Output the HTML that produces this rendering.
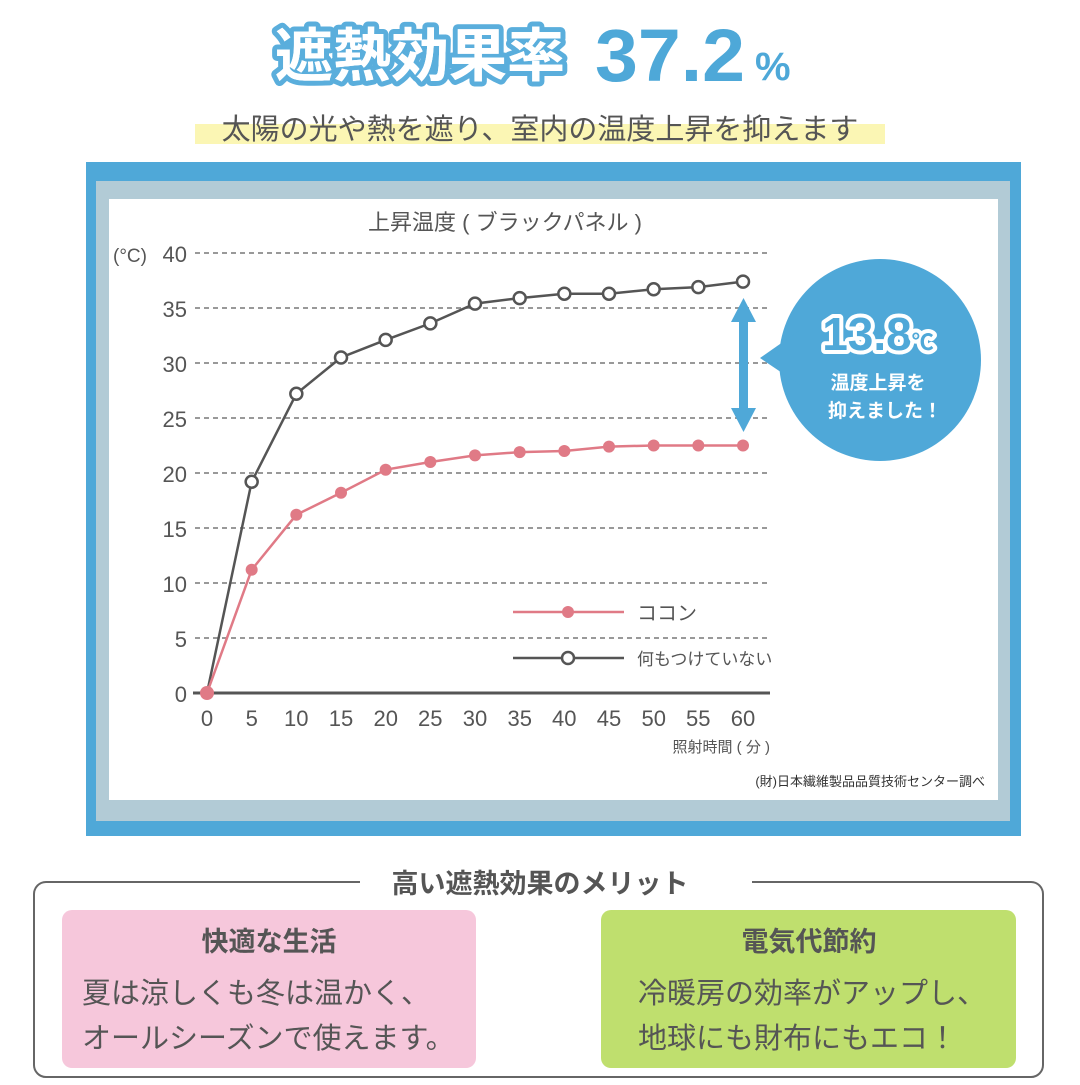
<!DOCTYPE html>
<html><head><meta charset="utf-8">
<style>
html,body{margin:0;padding:0;background:#fff;}
svg text{font-family:"Liberation Sans","Noto Sans CJK JP",sans-serif;}
</style></head>
<body>
<svg id="s" width="1080" height="1080" viewBox="0 0 1080 1080" xmlns="http://www.w3.org/2000/svg">
<rect width="1080" height="1080" fill="#fff"/>
<text x="420" y="76" text-anchor="middle" font-size="58" font-weight="bold" fill="#fff" stroke="#5aaedc" stroke-width="10" stroke-linejoin="round" paint-order="stroke" style="font-family:'Noto Sans CJK JP',sans-serif">遮熱効果率</text>
<text x="420" y="76" text-anchor="middle" font-size="58" font-weight="bold" fill="#fff" style="font-family:'Noto Sans CJK JP',sans-serif">遮熱効果率</text>
<text x="595" y="81" font-size="74" font-weight="bold" fill="#4ea8d8" textLength="150" lengthAdjust="spacingAndGlyphs">37.2</text>
<text x="755" y="80" font-size="40" font-weight="bold" fill="#4ea8d8">%</text>
<rect x="195" y="124" width="690" height="20" fill="#fbf6b4"/>
<text x="540" y="139" text-anchor="middle" font-size="29" fill="#555">太陽の光や熱を遮り、室内の温度上昇を抑えます</text>
<rect x="86" y="162" width="935" height="674" fill="#4fa8d8"/>
<rect x="96" y="181" width="914" height="640" fill="#b2cbd6"/>
<rect x="109" y="199" width="889" height="601" fill="#fff"/>
<text x="505" y="230" text-anchor="middle" font-size="22" fill="#555">上昇温度 ( ブラックパネル )</text>
<g id="grid"></g>
<line x1="193" y1="693" x2="770" y2="693" stroke="#555" stroke-width="3"/>
<g font-size="22" fill="#555" text-anchor="end">
<text x="187" y="262">40</text><text x="187" y="317">35</text><text x="187" y="372">30</text><text x="187" y="427">25</text><text x="187" y="482">20</text><text x="187" y="537">15</text><text x="187" y="592">10</text><text x="187" y="647">5</text><text x="187" y="702">0</text>
</g>
<text x="113" y="262" font-size="19" fill="#555">(°C)</text>
<g font-size="22" fill="#555" text-anchor="middle">
<text x="207" y="726">0</text><text x="251.7" y="726">5</text><text x="296.3" y="726">10</text><text x="341" y="726">15</text><text x="385.7" y="726">20</text><text x="430.3" y="726">25</text><text x="475" y="726">30</text><text x="519.7" y="726">35</text><text x="564.3" y="726">40</text><text x="609" y="726">45</text><text x="653.7" y="726">50</text><text x="698.3" y="726">55</text><text x="743" y="726">60</text>
</g>
<text x="770" y="752" text-anchor="end" font-size="15" fill="#555">照射時間 ( 分 )</text>
<text x="985" y="786" text-anchor="end" font-size="13" fill="#333">(財)日本繊維製品品質技術センター調べ</text>
<g id="series"></g>
<line x1="513" y1="612" x2="624" y2="612" stroke="#e07a86" stroke-width="2.5"/>
<circle cx="568" cy="612" r="6" fill="#e07a86"/>
<text x="637" y="620" font-size="20" fill="#555">ココン</text>
<line x1="513" y1="658" x2="624" y2="658" stroke="#555" stroke-width="2.5"/>
<circle cx="568" cy="658" r="6" fill="#fff" stroke="#555" stroke-width="2.5"/>
<text x="637" y="665" font-size="17" fill="#555">何もつけていない</text>
<rect x="739" y="316" width="9" height="98" fill="#4fa8d8"/>
<polygon points="743.5,298 731,322 756,322" fill="#4fa8d8"/>
<polygon points="743.5,432 731,408 756,408" fill="#4fa8d8"/>
<circle cx="880" cy="360" r="101" fill="#4fa8d8"/>
<polygon points="760,358 800,330 800,385" fill="#4fa8d8"/>
<text x="878" y="350" text-anchor="middle" font-size="46" font-weight="bold" fill="#4fa8d8" stroke="#fff" stroke-width="8" stroke-linejoin="round" paint-order="stroke">13.8<tspan font-size="22">℃</tspan></text>
<text x="878" y="389" text-anchor="middle" font-size="19" font-weight="bold" fill="#fff">温度上昇を</text>
<text x="885" y="417" text-anchor="middle" font-size="19" font-weight="bold" fill="#fff">抑えました！</text>
<rect x="34" y="882" width="1009" height="195" rx="12" fill="none" stroke="#666" stroke-width="2"/>
<rect x="360" y="870" width="392" height="24" fill="#fff"/>
<text x="540" y="893" text-anchor="middle" font-size="27" font-weight="bold" fill="#555">高い遮熱効果のメリット</text>
<rect x="62" y="910" width="414" height="158" rx="10" fill="#f6c7db"/>
<rect x="601" y="910" width="415" height="158" rx="10" fill="#bfdf6e"/>
<text x="269" y="951" text-anchor="middle" font-size="27" font-weight="bold" fill="#555">快適な生活</text>
<text x="809" y="951" text-anchor="middle" font-size="27" font-weight="bold" fill="#555">電気代節約</text>
<text x="82" y="1003" font-size="29" fill="#555">夏は涼しくも冬は温かく、</text>
<text x="82" y="1048" font-size="29" fill="#555">オールシーズンで使えます。</text>
<text x="638" y="1003" font-size="29" fill="#555">冷暖房の効率がアップし、</text>
<text x="638" y="1048" font-size="29" fill="#555">地球にも財布にもエコ！</text>
</svg>
<script>
var NS="http://www.w3.org/2000/svg";
function el(t,a,p){var e=document.createElementNS(NS,t);for(var k in a)e.setAttribute(k,a[k]);p.appendChild(e);return e;}
var g=document.getElementById('grid');
for(var i=1;i<=8;i++){var y=693-i*55;el('line',{x1:195,y1:y,x2:770,y2:y,stroke:'#999','stroke-width':2,'stroke-dasharray':'5 4'},g);}
var s=document.getElementById('series');
var a=[0,11.2,16.2,18.2,20.3,21,21.6,21.9,22,22.4,22.5,22.5,22.5];
var b=[0,19.2,27.2,30.5,32.1,33.6,35.4,35.9,36.3,36.3,36.7,36.9,37.4];
function X(i){return 207+i*44.667;}function Y(v){return 693-v*11;}
function pts(d){return d.map(function(v,i){return X(i)+','+Y(v);}).join(' ');}
el('polyline',{points:pts(b),fill:'none',stroke:'#555','stroke-width':2.5},s);
el('polyline',{points:pts(a),fill:'none',stroke:'#e07a86','stroke-width':2.5},s);
b.forEach(function(v,i){if(i>0)el('circle',{cx:X(i),cy:Y(v),r:6,fill:'#fff',stroke:'#555','stroke-width':2.5},s);});
a.forEach(function(v,i){el('circle',{cx:X(i),cy:Y(v),r:i==0?7:6,fill:'#e07a86'},s);});
</script>
</body></html>
